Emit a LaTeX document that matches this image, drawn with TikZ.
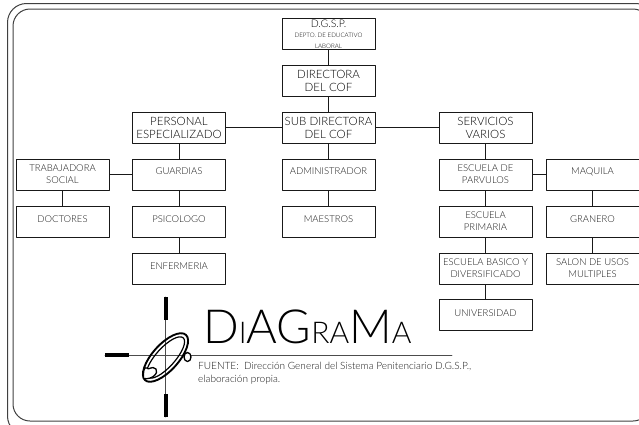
\documentclass[tikz,border=0pt]{standalone}
\usepackage{fontspec}
\setmainfont{Lato}
\newfontfamily\lightfont{Lato Light}
\usetikzlibrary{calc}
\tikzset{
box/.style={draw=black!90,line width=0.9pt,minimum width=93pt,minimum height=31pt,inner sep=0pt,align=center,text=black!90,font=\lightfont\fontsize{9.5}{12}\selectfont},
bigbox/.style={box,text=black,font=\lightfont\fontsize{11.5}{13}\selectfont},
oneline/.style={text depth=6pt},
lowline/.style={text depth=4pt},
logo/.style={line width=4pt,line cap=butt,black},
}
\begin{document}
\begin{tikzpicture}[x=1pt,y=-1pt,line join=round,line cap=round]
\useasboundingbox (0,0) rectangle (639,424);
\path
(7.5,3.5) coordinate (FA)
(655,435) coordinate (FB)
(13,9) coordinate (FC)
(650,421) coordinate (FD)
(165.5,297) coordinate (N)
(165.5,417) coordinate (S)
(105,355) coordinate (W)
(452,355) coordinate (E)
(165.5,357.5) coordinate (O)
;
% frame
\begin{scope}
\clip (0,0) rectangle (639,424);
\draw[black!75,line width=1pt,rounded corners=19pt] (FA) rectangle (FB);
\draw[black!75,line width=1pt,rounded corners=17pt] (FC) rectangle (FD);
\end{scope}
% boxes
\node[bigbox] (dgsp) at (328.5,34) {\fontsize{10.5}{9}\selectfont D.G.S.P.\\[-2.5pt]\fontsize{6.2}{7.5}\selectfont DEPTO. DE EDUCATIVO\\[-2.5pt]\fontsize{6.2}{7.5}\selectfont LABORAL};
\node[bigbox] (dir) at (328.5,80.5) {DIRECTORA\\DEL COF};
\node[bigbox] (sub) at (328.5,127.5) {SUB DIRECTORA\\DEL COF};
\node[bigbox] (pers) at (179,127.5) {PERSONAL\\ESPECIALIZADO};
\node[bigbox] (serv) at (485.5,127.5) {SERVICIOS\\VARIOS};
\node[box] (trab) at (62.5,174.5) {TRABAJADORA\\SOCIAL};
\node[box,lowline] (doc) at (62.5,221.5) {DOCTORES};
\node[box,oneline] (guard) at (179,174.5) {GUARDIAS};
\node[box,lowline] (psic) at (179,221.5) {PSICOLOGO};
\node[box,lowline] (enf) at (179,268.5) {ENFERMERIA};
\node[box,oneline] (admin) at (328.5,174.5) {ADMINISTRADOR};
\node[box,lowline] (maes) at (328.5,221.5) {MAESTROS};
\node[box] (esc) at (485.5,174.5) {ESCUELA DE\\PARVULOS};
\node[box] (prim) at (485.5,221.5) {ESCUELA\\PRIMARIA};
\node[box] (bas) at (485.5,268.5) {ESCUELA BASICO Y\\DIVERSIFICADO};
\node[box,lowline] (univ) at (485.5,315) {UNIVERSIDAD};
\node[box,oneline] (maq) at (592.5,174.5) {MAQUILA};
\node[box,lowline] (gran) at (592.5,221.5) {GRANERO};
\node[box] (salon) at (592.5,268.5) {SALON DE USOS\\MULTIPLES};
% connectors
\foreach \a/\b in {dgsp/dir,dir/sub,sub/pers,sub/serv,sub/admin,admin/maes,pers/guard,guard/psic,psic/enf,guard/trab,trab/doc,serv/esc,esc/prim,prim/bas,bas/univ,esc/maq,maq/gran,gran/salon}
{\draw[black!90,line width=0.9pt] (\a)--(\b);}
% logo
\draw[black!70,line width=0.9pt] (N)--(S) (W)--(E);
\draw[logo] (N)--($(N)+(0,23)$) (S)--($(S)+(0,-23)$);
\draw[logo] (W)--($(W)+(24,0)$);
\draw[line width=1.9pt,rotate around={48:(O)}] (O) ellipse (30.5 and 13);
\draw[line width=1.2pt,rotate around={48:(O)}] (O) ellipse (26.5 and 9.5);
\draw[line width=1.3pt,fill=white] (187.5,357) ellipse (3.5 and 4.5);
\draw[line width=1.3pt,fill=white] (143.5,378.5) .. controls (152,380) and (159,373) .. (156,369) .. controls (152,365) and (148,371) .. (147,368) .. controls (144,366) and (143,372) .. (143.5,378.5) -- cycle;
% title
\node[anchor=base west,inner sep=0pt,font=\lightfont\fontsize{47}{47}\selectfont] (title) at (203,343) {D\fontsize{30}{30}\selectfont I\fontsize{47}{47}\selectfont AG\fontsize{30}{30}\selectfont RA\fontsize{47}{47}\selectfont M\fontsize{30}{30}\selectfont A};
\node[anchor=north west,inner sep=0pt,align=left,text=black!90,font=\lightfont\fontsize{10.05}{13}\selectfont] (fuente) at (198,361.5) {FUENTE:\ \ Dirección General del Sistema Penitenciario D.G.S.P.,\\elaboración propia.};
\end{tikzpicture}
\end{document}
